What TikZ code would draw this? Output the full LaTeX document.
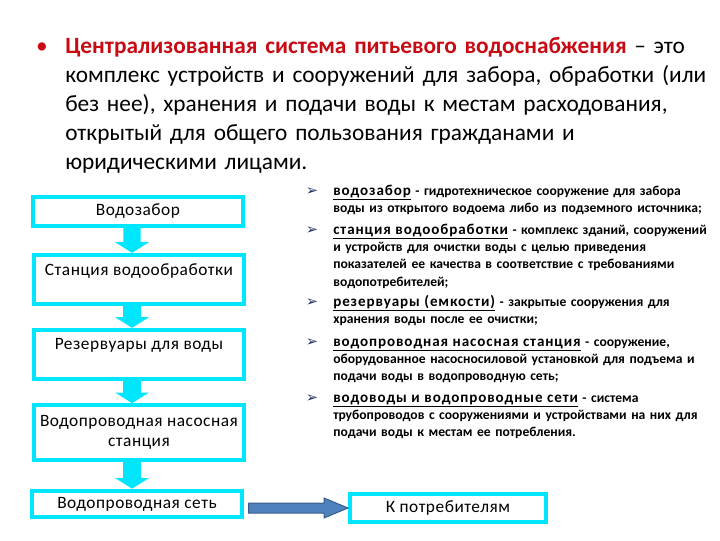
\documentclass[tikz,border=0pt]{standalone}
\usepackage{fontspec}
\setmainfont{Carlito}
\newfontfamily\symfont{DejaVu Sans}
\usepackage{tikz}
\usetikzlibrary{arrows.meta,calc}

\definecolor{aqua}{RGB}{0,230,255}
\definecolor{titlered}{RGB}{200,10,20}
\definecolor{pipeblue}{RGB}{79,129,189}
\definecolor{pipeedge}{RGB}{56,93,138}
\definecolor{pointerblue}{RGB}{40,50,100}

\newcommand\term[1]{\underline{\addfontfeature{LetterSpace=6}\fontsize{11.3}{13}\selectfont #1}}

\tikzset{
	stagebox/.style={draw=aqua, line width=3pt, fill=white, minimum width=157pt, inner sep=2pt, align=center, font=\fontsize{13}{15.5}\selectfont\addfontfeature{LetterSpace=3}},
	flow/.style={draw=aqua, line width=13pt, -{Triangle[width=25pt,length=8pt]}},
	gloss/.style={anchor=base west, inner sep=0pt, text width=320pt, align=left, font=\bfseries\fontsize{10.2}{13.1}\selectfont},
	pointer/.style={anchor=base, inner sep=0pt, text=pointerblue, font=\symfont\fontsize{11}{12}\selectfont}
}

\begin{document}
\begin{tikzpicture}[x=0.75pt,y=0.75pt,yscale=-1,xscale=1]
	%set diagram size 720 x 540
	\useasboundingbox (0,0) rectangle (720,540);
	
	% Text Node
	\draw (42,53) node [anchor=base, inner sep=0pt, text=titlered, font=\fontsize{17.5}{21.75}\selectfont] (dot) {•};
	% Text Node
	\draw (65,53) node [anchor=base west, inner sep=0pt, text width=500pt, align=left, font=\fontsize{17.5}{21.75}\selectfont] (lead) {\textcolor{titlered}{\textbf{Централизованная система питьевого водоснабжения}} – это\\
		комплекс устройств и сооружений для забора, обработки (или\\
		без нее), хранения и подачи воды к местам расходования,\\
		открытый для общего пользования гражданами и\\
		юридическими лицами.};
	
	%Shape: Rectangle
	\draw (138,211.5) node [stagebox, minimum height=22pt] (intake) {Водозабор};
	%Shape: Rectangle
	\draw (139,279.5) node [stagebox, minimum height=37pt] (plant) {Станция водообработки\\ ~};
	%Shape: Rectangle
	\draw (139,354.5) node [stagebox, minimum height=37pt] (tank) {Резервуары для воды\\ ~};
	%Shape: Rectangle
	\draw (139,432.5) node [stagebox, minimum height=41pt] (pump) {Водопроводная насосная\\станция};
	%Shape: Rectangle
	\draw (137,504) node [stagebox, minimum height=20pt] (net) {Водопроводная сеть};
	%Shape: Rectangle
	\draw (448,508) node [stagebox, minimum width=147pt, minimum height=20.5pt] (users) {К потребителям};
	
	%Straight Lines
	\draw [flow] ([xshift=-4.5pt]intake.south) -- ([xshift=-5.2pt]plant.north);
	\draw [flow] ([xshift=-5.2pt]plant.south) -- ([xshift=-5.2pt]tank.north);
	\draw [flow] ([xshift=-5.2pt]tank.south) -- ([xshift=-5.2pt]pump.north);
	\draw [flow] ([xshift=-5.2pt]pump.south) -- ([xshift=-3.7pt]net.north);
	
	%Shape: Right Arrow
	\draw [fill=pipeblue, draw=pipeedge, line width=0.75] ($(net.east |- users.west)+(5,-5)$) -- ($(users.west)+(-24,-5)$) -- ($(users.west)+(-24,-10)$) -- (users.west) -- ($(users.west)+(-24,10)$) -- ($(users.west)+(-24,5)$) -- ($(net.east |- users.west)+(5,5)$) -- cycle;
	
	% Text Node
	\draw (312,195) node [pointer] (p1) {➢};
	\draw (333,195) node [gloss] (g1) {\term{водозабор} - гидротехническое сооружение для забора\\
		воды из открытого водоема либо из подземного источника;};
	% Text Node
	\draw (312,234) node [pointer] (p2) {➢};
	\draw (333,234) node [gloss] (g2) {\term{станция водообработки} - комплекс зданий, сооружений\\
		и устройств для очистки воды с целью приведения\\
		показателей ее качества в соответствие с требованиями\\
		водопотребителей;};
	% Text Node
	\draw (312,306) node [pointer] (p3) {➢};
	\draw (333,306) node [gloss] (g3) {\term{резервуары (емкости)} - закрытые сооружения для\\
		хранения воды после ее очистки;};
	% Text Node
	\draw (312,346) node [pointer] (p4) {➢};
	\draw (333,346) node [gloss] (g4) {\term{водопроводная насосная станция} - сооружение,\\
		оборудованное насосносиловой установкой для подъема и\\
		подачи воды в водопроводную сеть;};
	% Text Node
	\draw (312,402) node [pointer] (p5) {➢};
	\draw (333,402) node [gloss] (g5) {\term{водоводы и водопроводные сети} - система\\
		трубопроводов с сооружениями и устройствами на них для\\
		подачи воды к местам ее потребления.};
	
\end{tikzpicture}
\end{document}
